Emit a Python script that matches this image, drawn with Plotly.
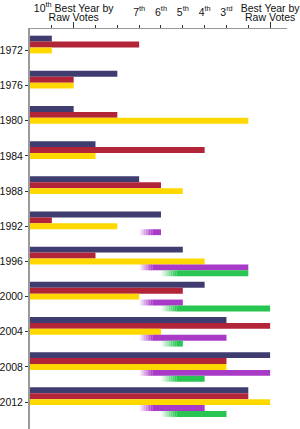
import plotly.graph_objects as go

# ---- data (ranks by raw votes: 1 = best year, 11 = worst of the 11 elections) ----
years = ["1972", "1976", "1980", "1984", "1988", "1992", "1996", "2000", "2004", "2008", "2012"]
navy_rank = [11, 8, 10, 9, 7, 6, 5, 4, 3, 1, 2]
red_rank = [7, 10, 8, 4, 6, 11, 9, 5, 1, 3, 2]
yellow_rank = [11, 10, 2, 9, 5, 8, 4, 7, 6, 3, 1]
purple_years = ["1992", "1996", "2000", "2004", "2008", "2012"]
purple_rank = [6, 2, 5, 3, 1, 4]
green_years = ["1996", "2000", "2004", "2008", "2012"]
green_rank = [2, 1, 5, 4, 3]

tick_ranks = [11, 10, 9, 8, 7, 6, 5, 4, 3, 2, 1]
end_ranks = [10, 1]
end_line1 = ["10<sup>th</sup> Best Year by", "Best Year by"]
end_line2 = ["Raw Votes", "Raw Votes"]
ord_ranks = [7, 6, 5, 4, 3]
ord_labels = ["7<sup>th</sup>", "6<sup>th</sup>", "5<sup>th</sup>", "4<sup>th</sup>", "3<sup>rd</sup>"]

# ---- style ----
TOP = 12  # score = TOP - rank
NAVY = "#3f3d70"
RED = "#b22438"
YELLOW = "#ffd800"
PURPLE = "#a93ac8"
GREEN = "#28c552"
FONT = "Liberation Sans, Arial, sans-serif"
TXT = "#111111"
PURPLE_FADE = (5.0, 5.6)
GREEN_FADE = (6.0, 6.7)
NSEG = 8


def score(ranks):
    return [TOP - r for r in ranks]


def hexrgb(h):
    h = h.lstrip("#")
    return tuple(int(h[i:i + 2], 16) for i in (0, 2, 4))


fig = go.Figure()
for name, ranks, col in [("navy", navy_rank, NAVY), ("red", red_rank, RED), ("yellow", yellow_rank, YELLOW)]:
    fig.add_bar(y=years, x=score(ranks), orientation="h", marker=dict(color=col, line=dict(width=0)),
                offsetgroup=name, showlegend=False, hoverinfo="skip")


def faded(name, yrs, ranks, col, fade):
    s = score(ranks)
    f0, f1 = fade
    step = (f1 - f0) / NSEG
    r, g, b = hexrgb(col)
    for i in range(NSEG):
        a = (i + 0.5) / NSEG
        fig.add_bar(y=yrs, x=[step] * len(yrs), base=[f0 + i * step] * len(yrs), orientation="h",
                    marker=dict(color=f"rgba({r},{g},{b},{a:.3f})", line=dict(width=0)),
                    offsetgroup=name, showlegend=False, hoverinfo="skip")
    fig.add_bar(y=yrs, x=[v - f1 for v in s], base=[f1] * len(yrs), orientation="h",
                marker=dict(color=col, line=dict(width=0)),
                offsetgroup=name, showlegend=False, hoverinfo="skip")


faded("purple", purple_years, purple_rank, PURPLE, PURPLE_FADE)
faded("green", green_years, green_rank, GREEN, GREEN_FADE)

# invisible anchors so the overlaid label axes are drawn
for ax, rks in [("x2", end_ranks), ("x3", end_ranks), ("x4", ord_ranks)]:
    fig.add_scatter(x=score(rks), y=[years[0]] * len(rks), xaxis=ax, yaxis="y", mode="markers",
                    marker=dict(opacity=0, size=1), showlegend=False, hoverinfo="skip")

XR = [0, 259 / 22]
common = dict(range=XR, side="top", showgrid=False, zeroline=False, fixedrange=True,
              ticklabeloverflow="allow")
fig.update_layout(
    width=300, height=429,
    margin=dict(l=29, r=12, t=22, b=0),
    paper_bgcolor="white", plot_bgcolor="white",
    barmode="group", bargap=0.16, bargroupgap=0,
    font=dict(family=FONT, color=TXT, size=10.5),
    xaxis=dict(**common, tickmode="array", tickvals=score(tick_ranks), ticks="outside", ticklen=3,
               tickcolor="#333333", tickwidth=1, showticklabels=False,
               showline=True, linecolor="#999999", linewidth=1),
    xaxis2=dict(**common, overlaying="x", anchor="y", tickmode="array", tickvals=score(end_ranks),
                ticktext=end_line2, ticks="outside", ticklen=6, tickcolor="#333333", tickwidth=1,
                showline=False, ticklabelstandoff=-3, tickfont=dict(size=10.5, color=TXT)),
    xaxis3=dict(**common, overlaying="x", anchor="y", tickmode="array", tickvals=score(end_ranks),
                ticktext=end_line1, ticks="outside", ticklen=6, tickcolor="rgba(0,0,0,0)",
                showline=False, ticklabelstandoff=6, tickfont=dict(size=10.5, color=TXT)),
    xaxis4=dict(**common, overlaying="x", anchor="y", tickmode="array", tickvals=score(ord_ranks),
                ticktext=ord_labels, ticks="outside", ticklen=3, tickcolor="rgba(0,0,0,0)",
                showline=False, ticklabelstandoff=5, tickfont=dict(size=10.5, color=TXT)),
    yaxis=dict(type="category", categoryorder="array", categoryarray=years,
               range=[10.764, -0.61], ticks="outside", ticklen=3, tickcolor="#333333",
               showline=True, linecolor="#9a9a9a", linewidth=2, showgrid=False, zeroline=False,
               tickfont=dict(size=10.5, color=TXT), fixedrange=True),
)
fig.write_html("out.html")
